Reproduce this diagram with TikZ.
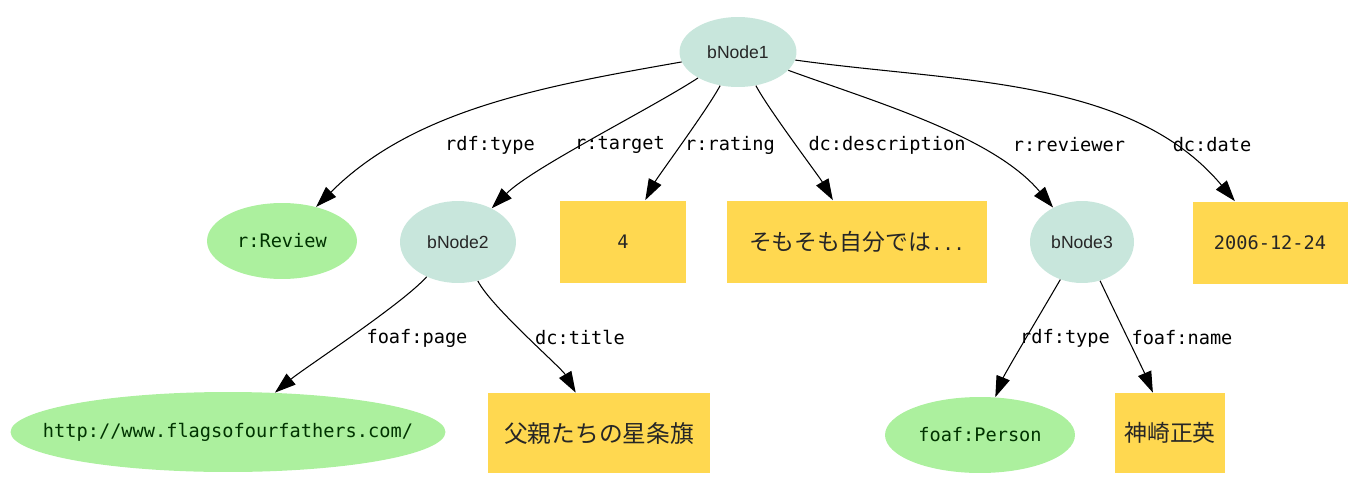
\documentclass[tikz,border=0pt]{standalone}
\usepackage{fontspec}
\usetikzlibrary{shapes.geometric, arrows.meta, positioning}
\setsansfont{Liberation Sans}
\setmonofont{DejaVu Sans Mono}
\newfontfamily\jafont{Noto Sans CJK JP}

\definecolor{bnodeteal}{RGB}{200,230,220}
\definecolor{resgreen}{RGB}{172,240,158}
\definecolor{lityellow}{RGB}{255,216,80}

\tikzset{
  bnode/.style={ellipse, fill=bnodeteal, inner sep=0pt, text=black!85,
    font=\sffamily\fontsize{10}{12}\selectfont},
  resource/.style={ellipse, fill=resgreen, inner sep=0pt, text=green!20!black,
    font=\ttfamily\fontsize{10.6}{12}\selectfont},
  literal/.style={rectangle, fill=lityellow, inner sep=0pt, text=black!85,
    font=\ttfamily\fontsize{10.6}{12}\selectfont},
  lbl/.style={inner sep=1pt, font=\ttfamily\fontsize{10.6}{12}\selectfont},
  rel/.style={-{Triangle[length=12pt,width=8pt]}, line width=0.6pt}
}
\newcommand{\nobox}[1]{\hbox to 0pt{\hss#1\hss}}

\begin{document}
\begin{tikzpicture}[x=0.02cm, y=-0.02cm]
    \useasboundingbox (0,0) rectangle (1349,477);

    % Top blank node
    \node[bnode, minimum width=2.34cm, minimum height=1.40cm] (bNode1) at (738,52) {bNode1};

    % Second row
    \node[resource, minimum width=3.00cm, minimum height=1.52cm] (review) at (282,241) {\nobox{r:Review}};
    \node[bnode, minimum width=2.32cm, minimum height=1.64cm] (bNode2) at (458,242) {bNode2};
    \node[literal, minimum width=2.54cm, minimum height=1.66cm] (rating) at (623,242) {4};
    \node[literal, minimum width=5.22cm, minimum height=1.66cm] (desc) at (857,242)
        {{\jafont\fontsize{13}{15}\selectfont そもそも自分では}...};
    \node[bnode, minimum width=2.08cm, minimum height=1.64cm] (bNode3) at (1082,242) {bNode3};
    \node[literal, minimum width=3.10cm, minimum height=1.66cm] (date) at (1270,243) {2006-12-24};

    % Third row
    \node[resource, minimum width=8.70cm, minimum height=1.60cm] (page) at (228,432)
        {\nobox{http://www.flagsofourfathers.com/}};
    \node[literal, minimum width=4.44cm, minimum height=1.60cm] (title) at (599,433)
        {\jafont\fontsize{13.5}{15}\selectfont 父親たちの星条旗};
    \node[resource, minimum width=3.80cm, minimum height=1.52cm] (person) at (980,435) {\nobox{foaf:Person}};
    \node[literal, minimum width=2.20cm, minimum height=1.60cm] (name) at (1170,433)
        {\jafont\fontsize{13}{15}\selectfont 神崎正英};

    % Edges from bNode1
    \draw[rel] (bNode1) to[out=190, in=45, looseness=0.9] (review);
    \draw[rel] (bNode1) to[out=213, in=45, looseness=0.6] (bNode2);
    \draw[rel] (bNode1) to[out=242, in=62, looseness=0.5] (rating);
    \draw[rel] (bNode1) to[out=298, in=120, looseness=0.5] (desc);
    \draw[rel] (bNode1) to[out=340, in=130, looseness=0.8] (bNode3);
    \draw[rel] (bNode1) to[out=352, in=130, looseness=0.9] (date);

    % Edges from bNode2 and bNode3
    \draw[rel] (bNode2) to[out=228, in=40, looseness=0.5] (page);
    \draw[rel] (bNode2) to[out=297, in=120, looseness=0.5] (title);
    \draw[rel] (bNode3) to[out=240, in=68, looseness=0.5] (person);
    \draw[rel] (bNode3) to[out=295, in=113, looseness=0.5] (name);

    % Edge labels
    \node[lbl] (lType)     at (490,145) {rdf:type};
    \node[lbl] (lTarget)   at (620,145) {r:target};
    \node[lbl] (lRating)   at (730,145) {r:rating};
    \node[lbl] (lDesc)     at (887,145) {dc:description};
    \node[lbl] (lReviewer) at (1069,145) {r:reviewer};
    \node[lbl] (lDate)     at (1212,145) {dc:date};
    \node[lbl] (lPage)     at (417,338) {foaf:page};
    \node[lbl] (lTitle)    at (580,338) {dc:title};
    \node[lbl] (lType2)    at (1065,338) {rdf:type};
    \node[lbl] (lName)     at (1182,338) {foaf:name};
\end{tikzpicture}
\end{document}
